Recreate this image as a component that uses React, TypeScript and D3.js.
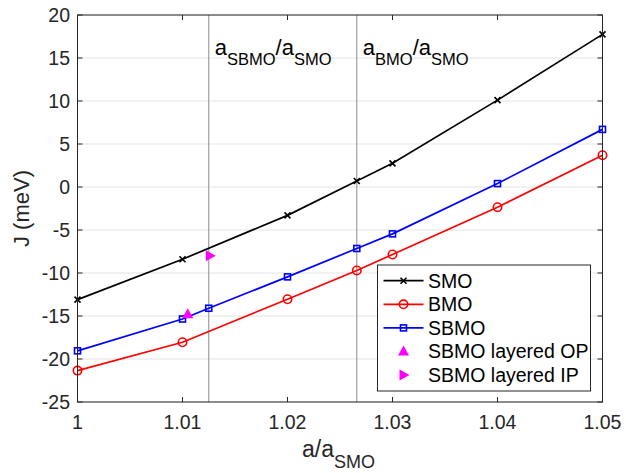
import React from 'react';
import * as d3 from 'd3';

// values
const xSMO = [1, 1.01, 1.02, 1.0266, 1.03, 1.04, 1.05];
const smoJ = [-13.1, -8.4, -3.3, 0.7, 2.75, 10.1, 17.75];
const xBMO = [1, 1.01, 1.02, 1.0266, 1.03, 1.04, 1.05];
const bmoJ = [-21.35, -18.05, -13.05, -9.7, -7.85, -2.35, 3.7];
const xSBMO = [1, 1.01, 1.0125, 1.02, 1.0266, 1.03, 1.04, 1.05];
const sbmoJ = [-19.05, -15.35, -14.1, -10.45, -7.15, -5.45, 0.4, 6.7];
const layeredOP = [{ x: 1.0105, y: -14.8 }];
const layeredIP = [{ x: 1.0126, y: -8.0 }];
const refLines = [
    { x: 1.0125, main: 'SBMO' },
    { x: 1.0266, main: 'BMO' },
];
const xTicks = [1, 1.01, 1.02, 1.03, 1.04, 1.05];
const yTicks = [-25, -20, -15, -10, -5, 0, 5, 10, 15, 20];
const legendItems = ['SMO', 'BMO', 'SBMO', 'SBMO layered OP', 'SBMO layered IP'];

const W = 626, H = 473;
const left = 77.5, right = 602.5, top = 15, bottom = 402;
const axisColor = '#262626';
const font = 'Helvetica, Arial, "Liberation Sans", sans-serif';

const xScale = d3.scaleLinear().domain([1, 1.05]).range([left, right]);
const yScale = d3.scaleLinear().domain([-25, 20]).range([bottom, top]);

type Mark = 'x' | 'o' | 's' | 'up' | 'right';

const Marker = ({ kind, cx, cy, color }: { kind: Mark; cx: number; cy: number; color: string }) => {
    if (kind === 'x') {
        const s = 3;
        return (
            <path d={`M${cx - s},${cy - s}L${cx + s},${cy + s}M${cx - s},${cy + s}L${cx + s},${cy - s}`}
                stroke={color} strokeWidth={1.6} />
        );
    }
    if (kind === 'o') return <circle cx={cx} cy={cy} r={4.2} fill="none" stroke={color} strokeWidth={1.6} />;
    if (kind === 's') return <rect x={cx - 3} y={cy - 3} width={6} height={6} fill="none" stroke={color} strokeWidth={1.6} />;
    if (kind === 'up') return <path d={`M${cx},${cy - 6}L${cx + 5.5},${cy + 4}L${cx - 5.5},${cy + 4}Z`} fill={color} />;
    return <path d={`M${cx + 6},${cy}L${cx - 4},${cy - 5.5}L${cx - 4},${cy + 5.5}Z`} fill={color} />;
};

const series = [
    { name: 'SMO', xs: xSMO, ys: smoJ, color: '#000000', mark: 'x' as Mark },
    { name: 'BMO', xs: xBMO, ys: bmoJ, color: '#ff0000', mark: 'o' as Mark },
    { name: 'SBMO', xs: xSBMO, ys: sbmoJ, color: '#0000ff', mark: 's' as Mark },
];

const App = () => {
    const line = d3.line<[number, number]>()
        .x(d => xScale(d[0]))
        .y(d => yScale(d[1]));

    const legX = 377.5, legY = 265, legW = 213, legH = 126, rowH = 23.6;

    return (
        <div style={{ position: 'absolute', left: 0, top: 0 }}>
            <svg width={W} height={H} style={{ display: 'block', background: '#fff' }} fontFamily={font}>
                {/* horizontal grid */}
                {yTicks.map(t => (
                    <line key={'g' + t} x1={left} x2={right} y1={yScale(t)} y2={yScale(t)}
                        stroke="#e3e3e3" strokeWidth={1} />
                ))}

                {/* reference lines */}
                {refLines.map(r => (
                    <line key={'r' + r.x} x1={xScale(r.x)} x2={xScale(r.x)} y1={top} y2={bottom}
                        stroke="#8c8c8c" strokeWidth={1} />
                ))}
                {refLines.map(r => (
                    <text key={'rt' + r.x} x={xScale(r.x) + 6} y={55} fontSize={22} fill="#000">
                        a<tspan fontSize={16.5} dy={10}>{r.main}</tspan>
                        <tspan dy={-10}>/a</tspan>
                        <tspan fontSize={16.5} dy={10}>SMO</tspan>
                    </text>
                ))}

                {/* data lines */}
                {series.map(s => (
                    <g key={s.name}>
                        <path d={line(s.xs.map((x, i) => [x, s.ys[i]] as [number, number])) || ''}
                            fill="none" stroke={s.color} strokeWidth={1.7} />
                        {s.xs.map((x, i) => (
                            <Marker key={i} kind={s.mark} cx={xScale(x)} cy={yScale(s.ys[i])} color={s.color} />
                        ))}
                    </g>
                ))}
                {layeredOP.map((p, i) => (
                    <Marker key={'op' + i} kind="up" cx={xScale(p.x)} cy={yScale(p.y)} color="#ff00ff" />
                ))}
                {layeredIP.map((p, i) => (
                    <Marker key={'ip' + i} kind="right" cx={xScale(p.x)} cy={yScale(p.y)} color="#ff00ff" />
                ))}

                {/* axes box */}
                <rect x={left} y={top} width={right - left} height={bottom - top}
                    fill="none" stroke={axisColor} strokeWidth={1} />
                {xTicks.map(t => (
                    <g key={'xt' + t}>
                        <line x1={xScale(t)} x2={xScale(t)} y1={bottom} y2={bottom - 5} stroke={axisColor} />
                        <line x1={xScale(t)} x2={xScale(t)} y1={top} y2={top + 5} stroke={axisColor} />
                        <text x={xScale(t)} y={429} textAnchor="middle" fontSize={19.5} fill={axisColor}>
                            {d3.format('')(t)}
                        </text>
                    </g>
                ))}
                {yTicks.map(t => (
                    <g key={'yt' + t}>
                        <line x1={left} x2={left + 5} y1={yScale(t)} y2={yScale(t)} stroke={axisColor} />
                        <line x1={right} x2={right - 5} y1={yScale(t)} y2={yScale(t)} stroke={axisColor} />
                        <text x={70} y={yScale(t)} dy="0.35em" textAnchor="end" fontSize={19.5} fill={axisColor}>
                            {t}
                        </text>
                    </g>
                ))}

                {/* axis labels */}
                <text x={302} y={457} fontSize={23} fill={axisColor}>
                    a/a<tspan fontSize={18} dy={11}>SMO</tspan>
                </text>
                <text transform={`translate(29, ${(top + bottom) / 2}) rotate(-90)`} textAnchor="middle"
                    fontSize={22} fill={axisColor}>J (meV)</text>

                {/* legend */}
                <rect x={legX} y={legY} width={legW} height={legH} fill="#fff" stroke={axisColor} strokeWidth={1} />
                {legendItems.map((name, i) => {
                    const cy = legY + 15.7 + i * rowH;
                    const s = series[i];
                    return (
                        <g key={'l' + name}>
                            {s ? (
                                <>
                                    <line x1={383.5} x2={423.5} y1={cy} y2={cy} stroke={s.color} strokeWidth={1.7} />
                                    <Marker kind={s.mark} cx={403.5} cy={cy} color={s.color} />
                                </>
                            ) : (
                                <Marker kind={i === 3 ? 'up' : 'right'} cx={403.5} cy={cy} color="#ff00ff" />
                            )}
                            <text x={428} y={cy} dy="0.35em" fontSize={19.5} fill="#000">{name}</text>
                        </g>
                    );
                })}
            </svg>
        </div>
    );
};

export default App;
